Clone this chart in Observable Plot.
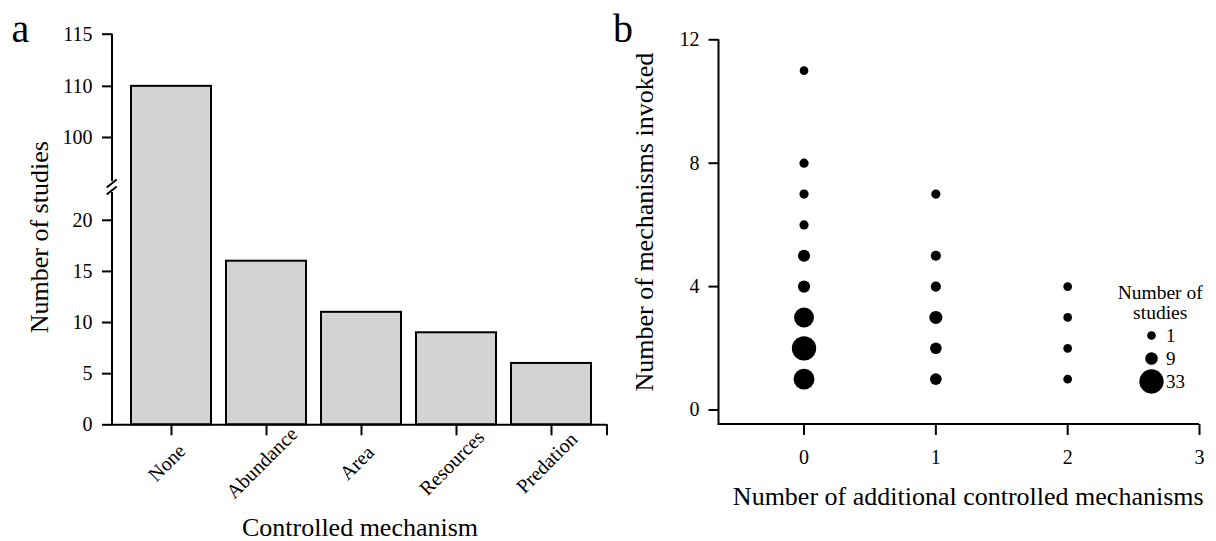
<!DOCTYPE html>
<html><head><meta charset="utf-8">
<script src="https://cdn.jsdelivr.net/npm/d3@7"></script>
<script src="https://cdn.jsdelivr.net/npm/@observablehq/plot@0.6"></script>
<style>
html,body{margin:0;padding:0;background:#fff;}
#wrap{position:relative;width:1216px;height:541px;overflow:hidden;background:#fff;}
#wrap > div{position:absolute;top:0;}
</style></head><body>
<div id="wrap"><div id="pa" style="left:0"></div><div id="pb" style="left:608px"></div><div id="leg" style="left:1100px;top:280px"></div></div>
<script>
// ---- Panel a data ----
const mechanisms = ["None", "Abundance", "Area", "Resources", "Predation"];
const studyCounts = [110, 16, 11, 9, 6];
const countTicks = [0, 5, 10, 15, 20, 100, 110, 115];

// ---- Panel b data ----
const additionalControlled = [0, 0, 0, 0, 0, 0, 0, 0, 0, 1, 1, 1, 1, 1, 1, 2, 2, 2, 2];
const mechanismsInvoked    = [11, 8, 7, 6, 5, 4, 3, 2, 1, 7, 5, 4, 3, 2, 1, 4, 3, 2, 1];
const numberOfStudies      = [1, 2, 2, 2, 8, 8, 24, 33, 26, 2, 4, 4, 10, 7, 7, 1, 1, 1, 1];
const sizeLegend = [1, 9, 33];
const invokedTicks = [0, 4, 8, 12];
const additionalTicks = [0, 1, 2, 3];

const bars = mechanisms.map((m, i) => ({mechanism: m, count: studyCounts[i]}));
const points = additionalControlled.map((x, i) => ({additional: x, invoked: mechanismsInvoked[i], n: numberOfStudies[i]}));

// broken-axis mapping (value -> display units)
const brk = d3.scaleLinear().domain([0, 20, 100, 110, 115]).range([0, 20, 28.1, 33.1, 38.2]);
const breakAt = 23.2;

const fontFamily = '"Liberation Serif","Times New Roman",serif';
const baseStyle = {fontFamily, fontSize: "20px", color: "#000", background: "#fff", overflow: "visible"};
const rScale = {type: "linear", domain: [1, 33], range: [4.35, 12.15]};

function brokenAxis(index, scales, values, dims) {
  const {marginLeft: x0, width, marginRight} = dims;
  const y = scales.y;
  const yb = y(breakAt);
  const g = d3.create("svg:g").attr("stroke", "#000").attr("stroke-width", 2).attr("fill", "none");
  g.append("line").attr("x1", x0).attr("x2", x0).attr("y1", y(0) + 1).attr("y2", yb + 5);
  g.append("line").attr("x1", x0).attr("x2", x0).attr("y1", yb - 6).attr("y2", y(brk(115)));
  for (const o of [-3.5, 3.5]) {
    g.append("line").attr("x1", x0 - 5.3).attr("y1", yb + o + 4).attr("x2", x0 + 4.7).attr("y2", yb + o - 4);
  }
  const xr = width - marginRight;
  g.append("line").attr("x1", xr).attr("x2", xr).attr("y1", y(0)).attr("y2", y(0) + 11);
  return g.node();
}

function lAxes(index, scales, values, dims) {
  const {marginLeft, marginTop, marginRight, marginBottom, width, height} = dims;
  return d3.create("svg:path")
    .attr("d", `M${marginLeft},${marginTop}V${height - marginBottom}H${width - marginRight}`)
    .attr("stroke", "#000").attr("stroke-width", 2).attr("fill", "none").node();
}

const pa = Plot.plot({
  width: 608, height: 541,
  marginLeft: 112, marginRight: 1, marginTop: 33.7, marginBottom: 116.7,
  style: baseStyle,
  x: {type: "band", domain: mechanisms, range: [130, 591.7], paddingInner: 0.16, paddingOuter: 0},
  y: {domain: [0, brk(115)]},
  marks: [
    Plot.barY(bars, {x: "mechanism", y1: 0, y2: d => brk(d.count), fill: "#d3d3d3", stroke: "#000", strokeWidth: 2}),
    Plot.ruleY([0], {strokeWidth: 2}),
    Plot.axisY(countTicks.map(brk), {tickSize: 10, tickPadding: 10, strokeWidth: 2, label: null,
      tickFormat: d => String(Math.round(brk.invert(d)))}),
    Plot.axisX({tickSize: 11, strokeWidth: 2, tickFormat: () => "", label: null}),
    Plot.text(mechanisms, {x: d => d, frameAnchor: "bottom", dy: 42.7, rotate: -45, textAnchor: "middle", fontSize: 20}),
    brokenAxis,
    Plot.text(["Number of studies"], {frameAnchor: "left", dx: -72.5, dy: 7.7, rotate: -90, textAnchor: "middle", fontSize: 26}),
    Plot.text(["Controlled mechanism"], {frameAnchor: "bottom", dy: 111.5, lineAnchor: "bottom", textAnchor: "middle", fontSize: 26}),
    Plot.text(["a"], {frameAnchor: "top-left", dx: -101, dy: 7.3, lineAnchor: "bottom", textAnchor: "start", fontSize: 40})
  ]
});
document.getElementById("pa").append(pa);

const pb = Plot.plot({
  width: 608, height: 541,
  marginLeft: 110.5, marginRight: 17, marginTop: 39.3, marginBottom: 117,
  style: baseStyle,
  x: {domain: [-0.645, 3]},
  y: {domain: [-0.47, 12]},
  r: rScale,
  marks: [
    lAxes,
    Plot.axisY(invokedTicks, {tickSize: 10, tickPadding: 9.5, strokeWidth: 2, label: null, tickFormat: d3.format("d")}),
    Plot.axisX(additionalTicks, {tickSize: 11, tickPadding: 14, strokeWidth: 2, label: null, tickFormat: d3.format("d")}),
    Plot.dot(points, {x: "additional", y: "invoked", r: "n", fill: "#000"}),
    Plot.text(["Number of mechanisms invoked"], {frameAnchor: "left", dx: -74, dy: -10, rotate: -90, textAnchor: "middle", fontSize: 26}),
    Plot.text(["Number of additional controlled mechanisms"], {frameAnchor: "bottom", dx: 9, dy: 80, lineAnchor: "bottom", textAnchor: "middle", fontSize: 26}),
    Plot.text(["b"], {frameAnchor: "top-left", dx: -106, dy: 1.7, lineAnchor: "bottom", textAnchor: "start", fontSize: 40})
  ]
});
document.getElementById("pb").append(pb);

const leg = Plot.plot({
  width: 116, height: 115,
  marginLeft: 51, marginRight: 65, marginTop: 0, marginBottom: 0,
  style: {...baseStyle, fontSize: "19px", background: "transparent"},
  y: {type: "point", domain: sizeLegend, range: [54.3, 101.7], padding: 0, axis: null},
  r: rScale,
  marks: [
    Plot.dot(sizeLegend, {y: d => d, r: d => d, fill: "#000", frameAnchor: "left"}),
    Plot.text(sizeLegend, {y: d => d, text: d => String(d), frameAnchor: "left", dx: 14.5, textAnchor: "start", fontSize: 19}),
    Plot.text(["Number of\nstudies"], {frameAnchor: "top-left", dx: 8.7, dy: 38, lineAnchor: "bottom", lineHeight: 1.02, textAnchor: "middle", fontSize: 19.5})
  ]
});
document.getElementById("leg").append(leg);
</script>
</body></html>
